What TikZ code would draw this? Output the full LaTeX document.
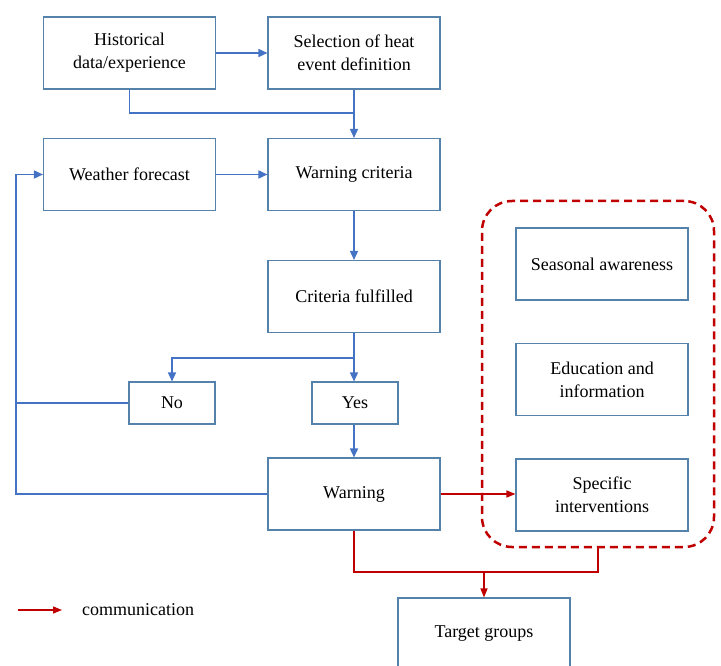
\documentclass[tikz,border=0pt]{standalone}
\usepackage{fontspec}
\setmainfont{Liberation Serif}
\usetikzlibrary{arrows.meta}
\definecolor{lineblue}{RGB}{68,114,196}
\definecolor{boxblue}{RGB}{84,130,170}
\definecolor{darkred}{RGB}{192,0,0}
\begin{document}
\begin{tikzpicture}[x=1pt,y=-1pt,
 box/.style={draw=boxblue,line width=1.1pt,minimum width=172pt,minimum height=72pt,align=center,inner sep=0pt,font=\fontsize{18}{23}\selectfont},
 smallbox/.style={box,minimum width=86pt,minimum height=42pt},
 flow/.style={draw=lineblue,line width=1.6pt,-{Triangle[length=9pt,width=8pt]}},
 link/.style={draw=lineblue,line width=1.6pt},
 comm/.style={draw=darkred,line width=1.4pt,-{Triangle[length=9pt,width=7pt]}},
 commline/.style={draw=darkred,line width=1.4pt},
 group/.style={draw=darkred,line width=2.5pt,dash pattern=on 8pt off 5pt,rounded corners=30pt,minimum width=232pt,minimum height=346pt}]
\clip (0,0) rectangle (721,666);
\node[box] (hist) at (129.5,53) {Historical\\data/experience};
\node[box] (sel) at (354,53) {Selection of heat\\event definition};
\node[box] (wf) at (129.5,174.5) {Weather forecast};
\node[box] (wc) at (354,174.5) {Warning criteria};
\node[box] (cf) at (354,296.5) {Criteria fulfilled};
\node[smallbox] (no) at (172,403) {No};
\node[smallbox] (yes) at (355,403) {Yes};
\node[box] (warn) at (354,494) {Warning};
\node[group] (grp) at (598,374) {};
\node[box] (sea) at (602,264) {Seasonal awareness};
\node[box] (edu) at (602,379.5) {Education and\\information};
\node[box] (spec) at (602,495) {Specific\\interventions};
\node[box] (tg) at (484,634) {Target groups};
% blue flow
\coordinate (j1) at (354,113);
\coordinate (j2) at (354,358);
\coordinate (ln) at (16,403);
\coordinate (lw) at (16,494);
\draw[flow] (hist) -- (sel);
\draw[flow] (sel) -- (wc);
\draw[link] (hist.south) |- (j1);
\draw[flow] (wf) -- (wc);
\draw[flow] (wc) -- (cf);
\draw[flow] (cf.south) -- (cf.south |- yes.north);
\draw[flow] (j2) -| (no.north);
\draw[link] (no.west) -- (ln);
\draw[flow] (warn.west) -- (lw) |- (wf.west);
\draw[flow] (yes.south -| warn.north) -- (warn.north);
% red communication
\coordinate (j3) at (484,572);
\draw[comm] (warn.east) -- (spec.west |- warn.east);
\draw[commline] (warn.south) |- (j3);
\draw[commline] (grp.south) |- (j3);
\draw[comm] (j3) -- (tg.north);
% legend
\coordinate (la) at (18,610);
\coordinate (lz) at (62,610);
\draw[comm] (la) -- (lz);
\node[anchor=west,inner sep=0pt,font=\fontsize{18}{23}\selectfont] (leg) at (82,610) {communication};
\end{tikzpicture}
\end{document}
